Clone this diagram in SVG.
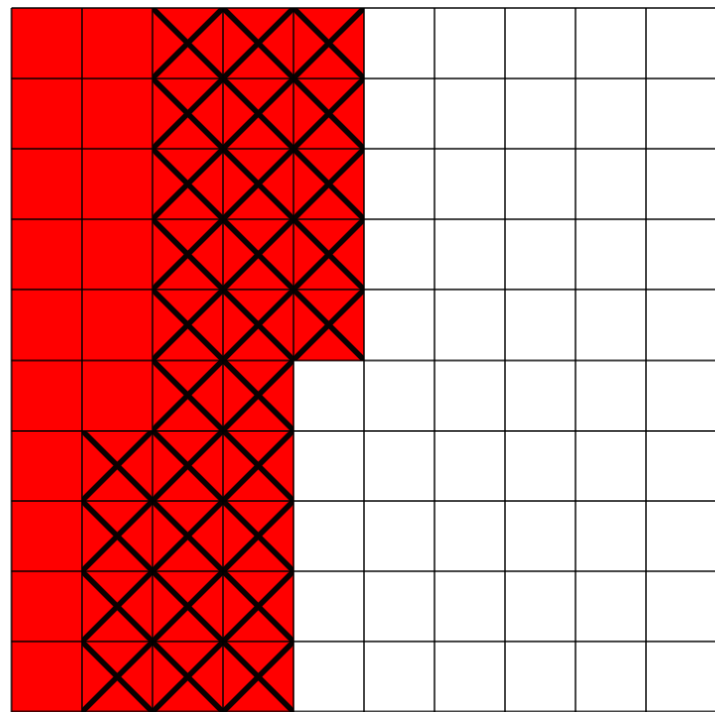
<svg xmlns="http://www.w3.org/2000/svg" width="715" height="712" viewBox="0 0 715 712">
  <style>
    .grid line { stroke: #000; stroke-opacity: 0.72; stroke-width: 2; }
    .x { stroke: #0a0000; stroke-width: 5.5; stroke-linecap: butt; }
  </style>
  <defs>
    <pattern id="hatch" patternUnits="userSpaceOnUse" x="11.5" y="8" width="70.5" height="70.4">
      <rect width="70.5" height="70.4" fill="#ff0000"/>
      <line class="x" x1="-70.5" y1="-70.4" x2="141" y2="140.8"/>
      <line class="x" x1="141" y1="-70.4" x2="-70.5" y2="140.8"/>
    </pattern>
  </defs>
  <rect width="715" height="712" fill="#ffffff"/>
  <g id="solid-red">
    <polygon points="11.5,8 364,8 364,360.4 293.5,360.4 293.5,712 11.5,712" fill="#ff0000"/>
  </g>
  <g id="hatched">
    <polygon points="152.5,8 364,8 364,360.4 293.5,360.4 293.5,712 82,712 82,431 152.5,431" fill="url(#hatch)"/>
  </g>
  <g id="grid" class="grid">
    <line x1="11.5" y1="8" x2="11.5" y2="712"/>
    <line x1="82" y1="8" x2="82" y2="712"/>
    <line x1="152.5" y1="8" x2="152.5" y2="712"/>
    <line x1="223" y1="8" x2="223" y2="712"/>
    <line x1="293.5" y1="8" x2="293.5" y2="712"/>
    <line x1="364" y1="8" x2="364" y2="712"/>
    <line x1="434.5" y1="8" x2="434.5" y2="712"/>
    <line x1="505" y1="8" x2="505" y2="712"/>
    <line x1="575.5" y1="8" x2="575.5" y2="712"/>
    <line x1="646" y1="8" x2="646" y2="712"/>
    <line x1="11.5" y1="8" x2="715" y2="8"/>
    <line x1="11.5" y1="78.4" x2="715" y2="78.4"/>
    <line x1="11.5" y1="148.8" x2="715" y2="148.8"/>
    <line x1="11.5" y1="219.2" x2="715" y2="219.2"/>
    <line x1="11.5" y1="289.6" x2="715" y2="289.6"/>
    <line x1="11.5" y1="360.4" x2="715" y2="360.4"/>
    <line x1="11.5" y1="431" x2="715" y2="431"/>
    <line x1="11.5" y1="501" x2="715" y2="501"/>
    <line x1="11.5" y1="571.3" x2="715" y2="571.3"/>
    <line x1="11.5" y1="641.6" x2="715" y2="641.6"/>
    <line x1="11.5" y1="711.5" x2="715" y2="711.5"/>
  </g>
</svg>
